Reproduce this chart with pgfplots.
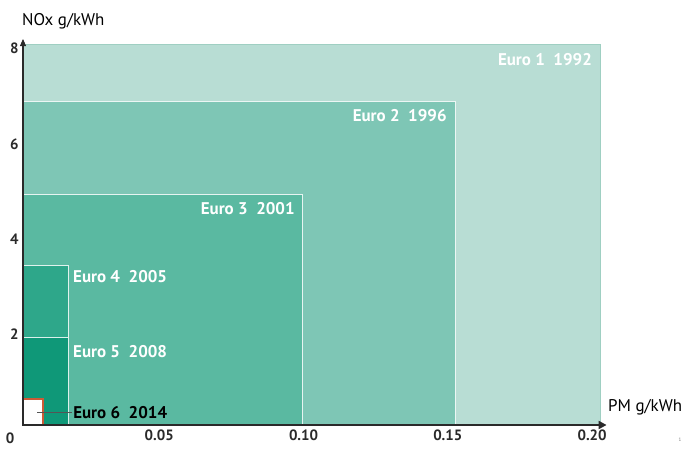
\documentclass[border=0pt]{standalone}
\usepackage{pgfplots}
\pgfplotsset{compat=1.18}
\usepackage{fontspec}
\setmainfont{PT Sans}

\definecolor{eA}{HTML}{B8DDD4}
\definecolor{eAedge}{HTML}{9FCFC2}
\definecolor{eB}{HTML}{7EC6B5}
\definecolor{eC}{HTML}{5AB9A1}
\definecolor{eD}{HTML}{2EA78A}
\definecolor{eE}{HTML}{0F9878}
\definecolor{eF}{HTML}{CC5A36}
\definecolor{axisdark}{HTML}{2A2A2A}

\newcommand{\lab}{\bfseries\fontsize{17}{17}\selectfont}

\begin{document}
\begin{tikzpicture}
\useasboundingbox (-23bp,-24bp) rectangle (663bp,425bp);
\begin{axis}[
  at={(0,0)}, anchor=origin,
  scale only axis,
  width=582bp, height=385bp,
  xmin=0, xmax=0.2017,
  ymin=0, ymax=8.1,
  clip=false,
  axis x line=bottom,
  axis y line=left,
  major tick length=0,
  xtick={0.05,0.10,0.15,0.20},
  xticklabels={0.05,0.10,0.15,0.20},
  ytick={2,4,6,8},
  yticklabels={2,4,6,8},
  /pgf/number format/assume math mode=true,
  tick label style={font=\bfseries\fontsize{15}{15}\selectfont, text=axisdark},
  x tick label style={xshift=-8bp, yshift=-1bp},
  y tick label style={yshift=-4bp, xshift=-1bp},
]
% Euro 1 .. Euro 5 limit boxes (PM, NOx)
\addplot[fill=eA, draw=eAedge, line width=1bp] coordinates {(0,8) (0.2,8)} \closedcycle;
\addplot[fill=eB, draw=white!85!eB, line width=0.8bp] coordinates {(0,6.8) (0.15,6.8)} \closedcycle;
\addplot[fill=eC, draw=white!85!eC, line width=0.8bp] coordinates {(0,4.85) (0.097,4.85)} \closedcycle;
\addplot[fill=eD, draw=white!85!eD, line width=0.8bp] coordinates {(0,3.35) (0.0156,3.35)} \closedcycle;
\addplot[fill=eE, draw=white!85!eE, line width=0.8bp] coordinates {(0,1.85) (0.0156,1.85)} \closedcycle;
% Euro 6
\addplot[fill=white, draw=eF, line width=1.5bp] coordinates {(0,0.55) (0.007,0.55)} \closedcycle;

% axis lines drawn as data lines
\addplot[axisdark, line width=1.3bp, no marks] coordinates {(0,8.05) (0,0) (0.2005,0)};
\addplot[fill=axisdark, draw=none, no marks] coordinates {(0.1995,0.09) (0.2022,0) (0.1995,-0.09)} -- cycle;
\addplot[fill=axisdark, draw=none, no marks] coordinates {(-0.0011,7.97) (0,8.12) (0.0011,7.97)} -- cycle;

\draw[axisdark!80, line width=1bp] (axis cs:0.0049,0.27) -- (axis cs:0.017,0.27);

\node[anchor=north east, text=white, inner sep=0pt] at ([xshift=-8bp,yshift=-8bp]axis cs:0.2,8) {\lab Euro 1\ \ 1992};
\node[anchor=north east, text=white, inner sep=0pt] at ([xshift=-9bp,yshift=-7bp]axis cs:0.15,6.8) {\lab Euro 2\ \ 1996};
\node[anchor=north east, text=white, inner sep=0pt] at ([xshift=-8bp,yshift=-8bp]axis cs:0.097,4.85) {\lab Euro 3\ \ 2001};
\node[anchor=north west, text=white, inner sep=0pt] at ([xshift=5bp,yshift=-4bp]axis cs:0.0156,3.35) {\lab Euro 4\ \ 2005};
\node[anchor=north west, text=white, inner sep=0pt] at ([xshift=5bp,yshift=-8bp]axis cs:0.0156,1.85) {\lab Euro 5\ \ 2008};
\node[anchor=west, text=black, inner sep=0pt] at ([xshift=1bp]axis cs:0.017,0.27) {\lab Euro 6\ \ 2014};
\end{axis}
\node[anchor=center, text=axisdark, font=\bfseries\fontsize{15}{15}\selectfont] at (-13bp,-13bp) {0};
\node[anchor=south west, inner sep=0pt, font=\fontsize{17}{17}\selectfont] at (-1bp,396bp) {NOx g/kWh};
\node[anchor=south west, inner sep=0pt, font=\fontsize{17}{17}\selectfont] at (585bp,10bp) {PM g/kWh};
\node[anchor=center, inner sep=0pt, font=\fontsize{5}{5}\selectfont, text=gray] at (657bp,-15bp) {1};
\end{tikzpicture}
\end{document}
